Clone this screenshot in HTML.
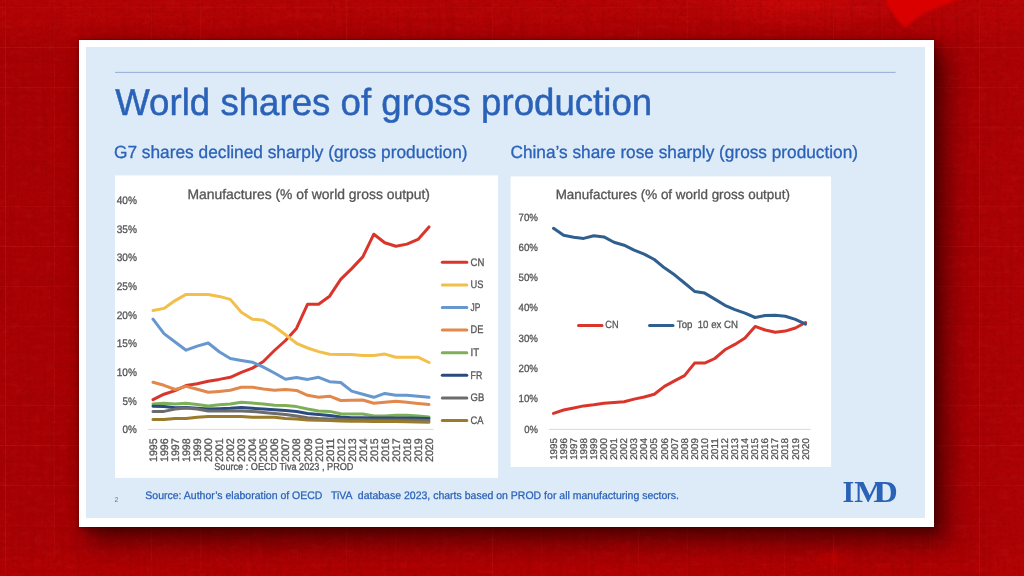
<!DOCTYPE html>
<html lang="en"><head><meta charset="utf-8"><title>World shares of gross production</title>
<style>
html,body{margin:0;padding:0}
body{width:1024px;height:576px;overflow:hidden;position:relative;background:#A80104;
 font-family:"Liberation Sans",sans-serif}
#bg{position:absolute;left:0;top:0;width:1024px;height:576px;
 background:
  radial-gradient(ellipse 120px 24px at 800px 4px, rgba(215,10,10,.55), rgba(200,0,0,0) 100%),
  linear-gradient(to right, rgba(190,6,6,0) 960px, rgba(190,6,6,.25) 1024px),
  radial-gradient(ellipse 22px 12px at 833px 557px, rgba(215,0,0,.55), rgba(215,0,0,0) 100%),
  radial-gradient(ellipse 16px 9px at 622px 546px, rgba(205,0,0,.4), rgba(215,0,0,0) 100%),
  linear-gradient(to bottom, rgba(200,6,6,.42) 0px, rgba(200,6,6,.28) 24px, rgba(200,6,6,0) 44px),
  linear-gradient(to bottom, rgba(190,0,0,0) 538px, rgba(192,0,0,.42) 576px),
  repeating-linear-gradient(to right, rgba(255,60,60,0) 0px, rgba(255,60,60,0) 5px, rgba(255,70,70,.15) 5.5px, rgba(255,60,60,0) 6.1px, rgba(255,60,60,0) 48.7px),
  repeating-linear-gradient(to bottom, rgba(255,60,60,0) 0px, rgba(255,60,60,0) 7.2px, rgba(255,70,70,.15) 7.7px, rgba(255,60,60,0) 8.3px, rgba(255,60,60,0) 39.8px),
  #A90205;}
#noise{position:absolute;left:0;top:0;width:1024px;height:576px;opacity:.34}
#slide{position:absolute;left:79.3px;top:40.3px;width:854.4px;height:486.6px;background:#fff;
 box-shadow: 11px 13px 22px 2px rgba(40,0,0,.6), 3px 3px 8px 0 rgba(50,0,0,.5), 0 0 2px 0 rgba(60,0,0,.5);}
#inner{position:absolute;left:86.2px;top:46.7px;width:838.6px;height:471.2px;background:#DDEAF7}
svg{position:absolute;left:0;top:0}
text{font-family:"Liberation Sans",sans-serif;text-rendering:geometricPrecision}
.ct{fill:#555;stroke:#555;stroke-width:.3px}
.b{stroke:#2A62B8;stroke-linejoin:round}
.ser text{font-family:"Liberation Serif",serif;font-weight:bold}
</style></head><body>
<div id="bg"></div>
<svg id="noise" width="1024" height="576"><filter id="nz" x="0" y="0" width="100%" height="100%"><feTurbulence type="fractalNoise" baseFrequency="0.3" numOctaves="3" seed="11"/><feColorMatrix type="matrix" values="0 0 0 0 0.2  0 0 0 0 0  0 0 0 0 0  4.5 0 0 0 -2.45"/></filter><filter id="nv" x="0" y="0" width="100%" height="100%"><feTurbulence type="fractalNoise" baseFrequency="0.22 0.012" numOctaves="2" seed="5"/><feColorMatrix type="matrix" values="0 0 0 0 0.25  0 0 0 0 0  0 0 0 0 0  0 4 0 0 -2.0"/></filter><filter id="nh" x="0" y="0" width="100%" height="100%"><feTurbulence type="fractalNoise" baseFrequency="0.012 0.22" numOctaves="2" seed="9"/><feColorMatrix type="matrix" values="0 0 0 0 0.25  0 0 0 0 0  0 0 0 0 0  0 0 4 0 -2.0"/></filter><filter id="nz2" x="0" y="0" width="100%" height="100%"><feTurbulence type="fractalNoise" baseFrequency="0.09 0.16" numOctaves="3" seed="4"/><feColorMatrix type="matrix" values="0 0 0 0 0.9  0 0 0 0 0.08  0 0 0 0 0.08  0 3.2 0 0 -1.75"/></filter><rect width="1024" height="576" filter="url(#nz)" opacity=".8"/><rect width="1024" height="576" filter="url(#nv)" opacity=".55"/><rect width="1024" height="576" filter="url(#nh)" opacity=".45"/><rect width="1024" height="576" filter="url(#nz2)" opacity=".18"/></svg>
<svg id="blob" width="1024" height="576"><filter id="bl"><feGaussianBlur stdDeviation="1.6"/></filter><polygon points="885,-4 969,-4 952,2 934,9 922,14 913,21 906,28 899,22 892,12 887,4" fill="#DE0203" opacity=".92" filter="url(#bl)"/></svg>
<div id="slide"></div>
<div id="inner"></div>
<svg width="1024" height="576" viewBox="0 0 1024 576">

<line x1="115" y1="72.4" x2="895.6" y2="72.4" stroke="#89A6D4" stroke-width="0.9"/>
<text class="b" x="115.2" y="114.8" font-size="37.6" fill="#2A62B8" textLength="537" lengthAdjust="spacingAndGlyphs" stroke-width="0.45">World shares of gross production</text>
<text class="b" x="114" y="157.5" font-size="17.6" fill="#2A62B8" stroke-width="0.3" textLength="353.5" lengthAdjust="spacingAndGlyphs">G7 shares declined sharply (gross production)</text>
<text class="b" x="510.5" y="157.5" font-size="17.6" fill="#2A62B8" stroke-width="0.3" textLength="347.5" lengthAdjust="spacingAndGlyphs">China’s share rose sharply (gross production)</text>
<rect x="115" y="175.4" width="383.1" height="302.5" fill="#fff"/>
<rect x="510.6" y="176.4" width="320.5" height="290.6" fill="#fff"/>
<text class="ct" x="187.4" y="199.3" font-size="14" textLength="242.6" lengthAdjust="spacingAndGlyphs">Manufactures (% of world gross output)</text>
<text class="ct" x="555.7" y="199.3" font-size="13.5" textLength="234.3" lengthAdjust="spacingAndGlyphs">Manufactures (% of world gross output)</text>
<text class="ct" text-anchor="end" x="136.9" y="433.2" font-size="10.9" textLength="14.3" lengthAdjust="spacingAndGlyphs">0%</text>
<text class="ct" text-anchor="end" x="136.9" y="404.5" font-size="10.9" textLength="14.3" lengthAdjust="spacingAndGlyphs">5%</text>
<text class="ct" text-anchor="end" x="136.9" y="375.9" font-size="10.9" textLength="20.2" lengthAdjust="spacingAndGlyphs">10%</text>
<text class="ct" text-anchor="end" x="136.9" y="347.2" font-size="10.9" textLength="20.2" lengthAdjust="spacingAndGlyphs">15%</text>
<text class="ct" text-anchor="end" x="136.9" y="318.5" font-size="10.9" textLength="20.2" lengthAdjust="spacingAndGlyphs">20%</text>
<text class="ct" text-anchor="end" x="136.9" y="289.8" font-size="10.9" textLength="20.2" lengthAdjust="spacingAndGlyphs">25%</text>
<text class="ct" text-anchor="end" x="136.9" y="261.2" font-size="10.9" textLength="20.2" lengthAdjust="spacingAndGlyphs">30%</text>
<text class="ct" text-anchor="end" x="136.9" y="232.5" font-size="10.9" textLength="20.2" lengthAdjust="spacingAndGlyphs">35%</text>
<text class="ct" text-anchor="end" x="136.9" y="203.8" font-size="10.9" textLength="20.2" lengthAdjust="spacingAndGlyphs">40%</text>
<text class="ct" text-anchor="end" x="537.9" y="432.6" font-size="10.5" textLength="13.7" lengthAdjust="spacingAndGlyphs">0%</text>
<text class="ct" text-anchor="end" x="537.9" y="402.3" font-size="10.5" textLength="19.4" lengthAdjust="spacingAndGlyphs">10%</text>
<text class="ct" text-anchor="end" x="537.9" y="372.0" font-size="10.5" textLength="19.4" lengthAdjust="spacingAndGlyphs">20%</text>
<text class="ct" text-anchor="end" x="537.9" y="341.7" font-size="10.5" textLength="19.4" lengthAdjust="spacingAndGlyphs">30%</text>
<text class="ct" text-anchor="end" x="537.9" y="311.4" font-size="10.5" textLength="19.4" lengthAdjust="spacingAndGlyphs">40%</text>
<text class="ct" text-anchor="end" x="537.9" y="281.1" font-size="10.5" textLength="19.4" lengthAdjust="spacingAndGlyphs">50%</text>
<text class="ct" text-anchor="end" x="537.9" y="250.8" font-size="10.5" textLength="19.4" lengthAdjust="spacingAndGlyphs">60%</text>
<text class="ct" text-anchor="end" x="537.9" y="220.5" font-size="10.5" textLength="19.4" lengthAdjust="spacingAndGlyphs">70%</text>
<line x1="147.8" y1="429.4" x2="433.5" y2="429.4" stroke="#D9D9D9" stroke-width="1"/>
<line x1="549" y1="429.4" x2="810.5" y2="429.4" stroke="#D9D9D9" stroke-width="1"/>
<text class="ct" transform="translate(156.9,462) rotate(-90)" font-size="10.9" textLength="23.7" lengthAdjust="spacingAndGlyphs">1995</text>
<text class="ct" transform="translate(167.9,462) rotate(-90)" font-size="10.9" textLength="23.7" lengthAdjust="spacingAndGlyphs">1996</text>
<text class="ct" transform="translate(179.0,462) rotate(-90)" font-size="10.9" textLength="23.7" lengthAdjust="spacingAndGlyphs">1997</text>
<text class="ct" transform="translate(190.0,462) rotate(-90)" font-size="10.9" textLength="23.7" lengthAdjust="spacingAndGlyphs">1998</text>
<text class="ct" transform="translate(201.1,462) rotate(-90)" font-size="10.9" textLength="23.7" lengthAdjust="spacingAndGlyphs">1999</text>
<text class="ct" transform="translate(212.1,462) rotate(-90)" font-size="10.9" textLength="23.7" lengthAdjust="spacingAndGlyphs">2000</text>
<text class="ct" transform="translate(223.1,462) rotate(-90)" font-size="10.9" textLength="23.7" lengthAdjust="spacingAndGlyphs">2001</text>
<text class="ct" transform="translate(234.2,462) rotate(-90)" font-size="10.9" textLength="23.7" lengthAdjust="spacingAndGlyphs">2002</text>
<text class="ct" transform="translate(245.2,462) rotate(-90)" font-size="10.9" textLength="23.7" lengthAdjust="spacingAndGlyphs">2003</text>
<text class="ct" transform="translate(256.3,462) rotate(-90)" font-size="10.9" textLength="23.7" lengthAdjust="spacingAndGlyphs">2004</text>
<text class="ct" transform="translate(267.3,462) rotate(-90)" font-size="10.9" textLength="23.7" lengthAdjust="spacingAndGlyphs">2005</text>
<text class="ct" transform="translate(278.3,462) rotate(-90)" font-size="10.9" textLength="23.7" lengthAdjust="spacingAndGlyphs">2006</text>
<text class="ct" transform="translate(289.4,462) rotate(-90)" font-size="10.9" textLength="23.7" lengthAdjust="spacingAndGlyphs">2007</text>
<text class="ct" transform="translate(300.4,462) rotate(-90)" font-size="10.9" textLength="23.7" lengthAdjust="spacingAndGlyphs">2008</text>
<text class="ct" transform="translate(311.5,462) rotate(-90)" font-size="10.9" textLength="23.7" lengthAdjust="spacingAndGlyphs">2009</text>
<text class="ct" transform="translate(322.5,462) rotate(-90)" font-size="10.9" textLength="23.7" lengthAdjust="spacingAndGlyphs">2010</text>
<text class="ct" transform="translate(333.5,462) rotate(-90)" font-size="10.9" textLength="23.7" lengthAdjust="spacingAndGlyphs">2011</text>
<text class="ct" transform="translate(344.6,462) rotate(-90)" font-size="10.9" textLength="23.7" lengthAdjust="spacingAndGlyphs">2012</text>
<text class="ct" transform="translate(355.6,462) rotate(-90)" font-size="10.9" textLength="23.7" lengthAdjust="spacingAndGlyphs">2013</text>
<text class="ct" transform="translate(366.7,462) rotate(-90)" font-size="10.9" textLength="23.7" lengthAdjust="spacingAndGlyphs">2014</text>
<text class="ct" transform="translate(377.7,462) rotate(-90)" font-size="10.9" textLength="23.7" lengthAdjust="spacingAndGlyphs">2015</text>
<text class="ct" transform="translate(388.7,462) rotate(-90)" font-size="10.9" textLength="23.7" lengthAdjust="spacingAndGlyphs">2016</text>
<text class="ct" transform="translate(399.8,462) rotate(-90)" font-size="10.9" textLength="23.7" lengthAdjust="spacingAndGlyphs">2017</text>
<text class="ct" transform="translate(410.8,462) rotate(-90)" font-size="10.9" textLength="23.7" lengthAdjust="spacingAndGlyphs">2018</text>
<text class="ct" transform="translate(421.9,462) rotate(-90)" font-size="10.9" textLength="23.7" lengthAdjust="spacingAndGlyphs">2019</text>
<text class="ct" transform="translate(432.9,462) rotate(-90)" font-size="10.9" textLength="23.7" lengthAdjust="spacingAndGlyphs">2020</text>
<text class="ct" transform="translate(556.6,459.8) rotate(-90)" font-size="9.8" textLength="21.7" lengthAdjust="spacingAndGlyphs">1995</text>
<text class="ct" transform="translate(566.7,459.8) rotate(-90)" font-size="9.8" textLength="21.7" lengthAdjust="spacingAndGlyphs">1996</text>
<text class="ct" transform="translate(576.8,459.8) rotate(-90)" font-size="9.8" textLength="21.7" lengthAdjust="spacingAndGlyphs">1997</text>
<text class="ct" transform="translate(586.8,459.8) rotate(-90)" font-size="9.8" textLength="21.7" lengthAdjust="spacingAndGlyphs">1998</text>
<text class="ct" transform="translate(596.9,459.8) rotate(-90)" font-size="9.8" textLength="21.7" lengthAdjust="spacingAndGlyphs">1999</text>
<text class="ct" transform="translate(607.0,459.8) rotate(-90)" font-size="9.8" textLength="21.7" lengthAdjust="spacingAndGlyphs">2000</text>
<text class="ct" transform="translate(617.1,459.8) rotate(-90)" font-size="9.8" textLength="21.7" lengthAdjust="spacingAndGlyphs">2001</text>
<text class="ct" transform="translate(627.2,459.8) rotate(-90)" font-size="9.8" textLength="21.7" lengthAdjust="spacingAndGlyphs">2002</text>
<text class="ct" transform="translate(637.2,459.8) rotate(-90)" font-size="9.8" textLength="21.7" lengthAdjust="spacingAndGlyphs">2003</text>
<text class="ct" transform="translate(647.3,459.8) rotate(-90)" font-size="9.8" textLength="21.7" lengthAdjust="spacingAndGlyphs">2004</text>
<text class="ct" transform="translate(657.4,459.8) rotate(-90)" font-size="9.8" textLength="21.7" lengthAdjust="spacingAndGlyphs">2005</text>
<text class="ct" transform="translate(667.5,459.8) rotate(-90)" font-size="9.8" textLength="21.7" lengthAdjust="spacingAndGlyphs">2006</text>
<text class="ct" transform="translate(677.6,459.8) rotate(-90)" font-size="9.8" textLength="21.7" lengthAdjust="spacingAndGlyphs">2007</text>
<text class="ct" transform="translate(687.6,459.8) rotate(-90)" font-size="9.8" textLength="21.7" lengthAdjust="spacingAndGlyphs">2008</text>
<text class="ct" transform="translate(697.7,459.8) rotate(-90)" font-size="9.8" textLength="21.7" lengthAdjust="spacingAndGlyphs">2009</text>
<text class="ct" transform="translate(707.8,459.8) rotate(-90)" font-size="9.8" textLength="21.7" lengthAdjust="spacingAndGlyphs">2010</text>
<text class="ct" transform="translate(717.9,459.8) rotate(-90)" font-size="9.8" textLength="21.7" lengthAdjust="spacingAndGlyphs">2011</text>
<text class="ct" transform="translate(728.0,459.8) rotate(-90)" font-size="9.8" textLength="21.7" lengthAdjust="spacingAndGlyphs">2012</text>
<text class="ct" transform="translate(738.0,459.8) rotate(-90)" font-size="9.8" textLength="21.7" lengthAdjust="spacingAndGlyphs">2013</text>
<text class="ct" transform="translate(748.1,459.8) rotate(-90)" font-size="9.8" textLength="21.7" lengthAdjust="spacingAndGlyphs">2014</text>
<text class="ct" transform="translate(758.2,459.8) rotate(-90)" font-size="9.8" textLength="21.7" lengthAdjust="spacingAndGlyphs">2015</text>
<text class="ct" transform="translate(768.3,459.8) rotate(-90)" font-size="9.8" textLength="21.7" lengthAdjust="spacingAndGlyphs">2016</text>
<text class="ct" transform="translate(778.4,459.8) rotate(-90)" font-size="9.8" textLength="21.7" lengthAdjust="spacingAndGlyphs">2017</text>
<text class="ct" transform="translate(788.4,459.8) rotate(-90)" font-size="9.8" textLength="21.7" lengthAdjust="spacingAndGlyphs">2018</text>
<text class="ct" transform="translate(798.5,459.8) rotate(-90)" font-size="9.8" textLength="21.7" lengthAdjust="spacingAndGlyphs">2019</text>
<text class="ct" transform="translate(808.6,459.8) rotate(-90)" font-size="9.8" textLength="21.7" lengthAdjust="spacingAndGlyphs">2020</text>
<path d="M153.0,399.7 L164.0,394.2 L175.1,390.6 L186.1,385.6 L197.2,383.8 L208.2,381.2 L219.2,379.4 L230.3,377.3 L241.3,372.3 L252.4,368.1 L263.4,361.5 L274.4,350.5 L285.5,340.5 L296.5,328.4 L307.6,304.2 L318.6,304.2 L329.6,296.2 L340.7,279.4 L351.7,268.6 L362.8,256.9 L373.8,234.2 L384.8,242.8 L395.9,246.2 L406.9,244.1 L418.0,239.4 L429.0,226.9" fill="none" stroke="#D9352B" stroke-width="3" stroke-linejoin="round" stroke-linecap="round"/>
<path d="M153.0,310.5 L164.0,308.4 L175.1,300.6 L186.1,294.4 L197.2,294.5 L208.2,294.5 L219.2,296.4 L230.3,299.4 L241.3,312.3 L252.4,319.2 L263.4,320.3 L274.4,326.5 L285.5,334.7 L296.5,343.3 L307.6,348.0 L318.6,351.6 L329.6,354.2 L340.7,354.4 L351.7,354.5 L362.8,355.5 L373.8,355.4 L384.8,354.1 L395.9,357.2 L406.9,357.2 L418.0,357.2 L429.0,362.5" fill="none" stroke="#F2BF4A" stroke-width="3" stroke-linejoin="round" stroke-linecap="round"/>
<path d="M153.0,319.1 L164.0,333.6 L175.1,342.0 L186.1,350.2 L197.2,346.1 L208.2,343.0 L219.2,351.7 L230.3,358.5 L241.3,360.4 L252.4,362.2 L263.4,367.2 L274.4,373.0 L285.5,379.2 L296.5,377.4 L307.6,379.4 L318.6,377.3 L329.6,381.7 L340.7,382.5 L351.7,391.1 L362.8,394.2 L373.8,397.3 L384.8,393.4 L395.9,395.3 L406.9,395.3 L418.0,396.2 L429.0,397.3" fill="none" stroke="#6698CF" stroke-width="3" stroke-linejoin="round" stroke-linecap="round"/>
<path d="M153.0,382.2 L164.0,385.3 L175.1,389.5 L186.1,386.4 L197.2,389.2 L208.2,392.3 L219.2,391.4 L230.3,390.3 L241.3,387.2 L252.4,387.2 L263.4,389.0 L274.4,390.3 L285.5,389.5 L296.5,390.4 L307.6,395.3 L318.6,397.3 L329.6,396.2 L340.7,400.5 L351.7,400.2 L362.8,400.0 L373.8,403.3 L384.8,402.3 L395.9,401.2 L406.9,402.2 L418.0,403.4 L429.0,404.4" fill="none" stroke="#E1884C" stroke-width="3" stroke-linejoin="round" stroke-linecap="round"/>
<path d="M153.0,404.0 L164.0,403.3 L175.1,404.0 L186.1,403.3 L197.2,404.4 L208.2,405.9 L219.2,404.8 L230.3,404.0 L241.3,402.3 L252.4,403.1 L263.4,404.0 L274.4,405.2 L285.5,405.6 L296.5,406.6 L307.6,409.0 L318.6,411.0 L329.6,411.4 L340.7,413.8 L351.7,414.0 L362.8,414.0 L373.8,416.0 L384.8,416.0 L395.9,415.3 L406.9,415.3 L418.0,416.0 L429.0,416.9" fill="none" stroke="#7DAF58" stroke-width="3" stroke-linejoin="round" stroke-linecap="round"/>
<path d="M153.0,406.2 L164.0,406.4 L175.1,407.8 L186.1,407.5 L197.2,408.3 L208.2,409.1 L219.2,408.8 L230.3,408.3 L241.3,407.5 L252.4,408.3 L263.4,409.1 L274.4,409.8 L285.5,410.6 L296.5,411.4 L307.6,413.4 L318.6,414.5 L329.6,415.6 L340.7,416.9 L351.7,417.7 L362.8,417.7 L373.8,417.9 L384.8,417.9 L395.9,417.9 L406.9,418.0 L418.0,418.2 L429.0,418.4" fill="none" stroke="#2B4A7F" stroke-width="3" stroke-linejoin="round" stroke-linecap="round"/>
<path d="M153.0,411.4 L164.0,411.4 L175.1,409.1 L186.1,408.0 L197.2,409.1 L208.2,410.9 L219.2,411.1 L230.3,411.1 L241.3,410.9 L252.4,411.4 L263.4,412.5 L274.4,413.4 L285.5,414.5 L296.5,416.1 L307.6,417.7 L318.6,418.5 L329.6,419.0 L340.7,419.3 L351.7,419.7 L362.8,419.7 L373.8,419.9 L384.8,419.9 L395.9,420.0 L406.9,420.0 L418.0,420.2 L429.0,420.4" fill="none" stroke="#6C6C6C" stroke-width="3" stroke-linejoin="round" stroke-linecap="round"/>
<path d="M153.0,419.5 L164.0,419.5 L175.1,418.4 L186.1,418.4 L197.2,417.2 L208.2,416.4 L219.2,416.4 L230.3,416.4 L241.3,416.4 L252.4,417.2 L263.4,417.2 L274.4,417.3 L285.5,418.4 L296.5,419.1 L307.6,420.0 L318.6,420.3 L329.6,420.6 L340.7,420.9 L351.7,421.2 L362.8,421.3 L373.8,421.6 L384.8,421.6 L395.9,421.6 L406.9,421.8 L418.0,422.0 L429.0,422.3" fill="none" stroke="#9A7A2B" stroke-width="3" stroke-linejoin="round" stroke-linecap="round"/>
<path d="M553.5,413.4 L563.6,410.0 L573.7,408.0 L583.7,405.9 L593.8,404.8 L603.9,403.3 L614.0,402.5 L624.1,401.7 L634.1,399.1 L644.2,397.0 L654.3,394.2 L664.4,386.4 L674.5,380.9 L684.5,375.6 L694.6,363.1 L704.7,363.1 L714.8,358.5 L724.9,349.8 L734.9,344.4 L745.0,338.1 L755.1,326.4 L765.2,330.0 L775.3,332.2 L785.3,331.1 L795.4,328.0 L805.5,322.5" fill="none" stroke="#D9352B" stroke-width="3" stroke-linejoin="round" stroke-linecap="round"/>
<path d="M553.5,228.3 L563.6,235.3 L573.7,237.2 L583.7,238.4 L593.8,235.8 L603.9,236.9 L614.0,242.3 L624.1,245.2 L634.1,250.2 L644.2,254.1 L654.3,259.5 L664.4,267.8 L674.5,274.8 L684.5,283.0 L694.6,291.4 L704.7,293.1 L714.8,299.1 L724.9,305.3 L734.9,309.7 L745.0,313.1 L755.1,317.5 L765.2,315.5 L775.3,315.2 L785.3,316.2 L795.4,319.4 L805.5,324.1" fill="none" stroke="#2F5F8E" stroke-width="3" stroke-linejoin="round" stroke-linecap="round"/>
<line x1="442.3" y1="262.3" x2="466.8" y2="262.3" stroke="#D9352B" stroke-width="3" stroke-linecap="round"/>
<text class="ct" x="470.6" y="265.5" font-size="10.9" textLength="13.8" lengthAdjust="spacingAndGlyphs">CN</text>
<line x1="442.3" y1="284.9" x2="466.8" y2="284.9" stroke="#F2BF4A" stroke-width="3" stroke-linecap="round"/>
<text class="ct" x="470.6" y="288.1" font-size="10.9" textLength="12.9" lengthAdjust="spacingAndGlyphs">US</text>
<line x1="442.3" y1="307.5" x2="466.8" y2="307.5" stroke="#6698CF" stroke-width="3" stroke-linecap="round"/>
<text class="ct" x="470.6" y="310.7" font-size="10.9" textLength="9.8" lengthAdjust="spacingAndGlyphs">JP</text>
<line x1="442.3" y1="330.1" x2="466.8" y2="330.1" stroke="#E1884C" stroke-width="3" stroke-linecap="round"/>
<text class="ct" x="470.6" y="333.3" font-size="10.9" textLength="12.9" lengthAdjust="spacingAndGlyphs">DE</text>
<line x1="442.3" y1="352.7" x2="466.8" y2="352.7" stroke="#7DAF58" stroke-width="3" stroke-linecap="round"/>
<text class="ct" x="470.6" y="355.9" font-size="10.9" textLength="8.6" lengthAdjust="spacingAndGlyphs">IT</text>
<line x1="442.3" y1="375.3" x2="466.8" y2="375.3" stroke="#2B4A7F" stroke-width="3" stroke-linecap="round"/>
<text class="ct" x="470.6" y="378.5" font-size="10.9" textLength="11.7" lengthAdjust="spacingAndGlyphs">FR</text>
<line x1="442.3" y1="397.9" x2="466.8" y2="397.9" stroke="#6C6C6C" stroke-width="3" stroke-linecap="round"/>
<text class="ct" x="470.6" y="401.1" font-size="10.9" textLength="13.7" lengthAdjust="spacingAndGlyphs">GB</text>
<line x1="442.3" y1="420.5" x2="466.8" y2="420.5" stroke="#9A7A2B" stroke-width="3" stroke-linecap="round"/>
<text class="ct" x="470.6" y="423.7" font-size="10.9" textLength="13.0" lengthAdjust="spacingAndGlyphs">CA</text>
<line x1="578.5" y1="325.5" x2="602" y2="325.5" stroke="#D9352B" stroke-width="3" stroke-linecap="round"/>
<text class="ct" x="605.3" y="328.4" font-size="10.5" textLength="13.2" lengthAdjust="spacingAndGlyphs">CN</text>
<line x1="649.5" y1="325.5" x2="673" y2="325.5" stroke="#2F5F8E" stroke-width="3" stroke-linecap="round"/>
<text class="ct" x="676.8" y="328.4" font-size="10.5" textLength="61.2" lengthAdjust="spacingAndGlyphs" xml:space="preserve" style="white-space:pre">Top  10 ex CN</text>
<text class="ct" x="214.2" y="470" font-size="10.1" textLength="139.3" lengthAdjust="spacingAndGlyphs">Source : OECD Tiva 2023 , PROD</text>
<text x="114.4" y="501.6" font-size="7" fill="#4F7DC6">2</text>
<text class="b" x="145.3" y="499" font-size="10.9" fill="#2A62B8" stroke-width="0.25" textLength="533.7" lengthAdjust="spacingAndGlyphs" xml:space="preserve" style="white-space:pre">Source: Author’s elaboration of OECD   TiVA  database 2023, charts based on PROD for all manufacturing sectors.</text>
<g class="ser" fill="#2A62B8" font-size="29"><text transform="translate(842.5,501.9) scale(1.04,1.05)">I</text><text transform="translate(854.2,501.9) scale(1.15,1.05)">M</text><text transform="translate(874.3,501.9) scale(1.12,1.05)">D</text></g>
</svg>
</body></html>
